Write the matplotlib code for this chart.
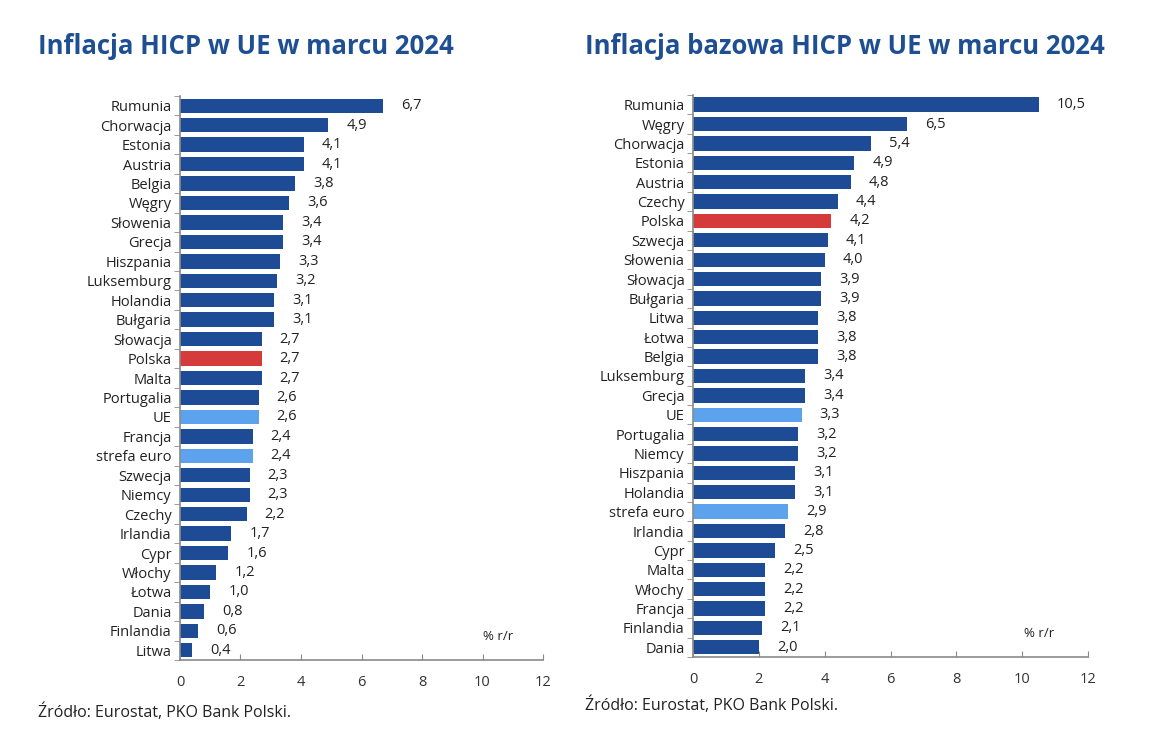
import numpy as np
import matplotlib
matplotlib.use('Agg')
import matplotlib.pyplot as plt

plt.rcParams['font.family'] = ['Open Sans', 'DejaVu Sans']

# left chart: HICP inflation, March 2024
hicp_countries = ["Rumunia", "Chorwacja", "Estonia", "Austria", "Belgia", "Węgry",
                  "Słowenia", "Grecja", "Hiszpania", "Luksemburg", "Holandia", "Bułgaria",
                  "Słowacja", "Polska", "Malta", "Portugalia", "UE", "Francja",
                  "strefa euro", "Szwecja", "Niemcy", "Czechy", "Irlandia", "Cypr",
                  "Włochy", "Łotwa", "Dania", "Finlandia", "Litwa"]
hicp_values = [6.7, 4.9, 4.1, 4.1, 3.8, 3.6, 3.4, 3.4, 3.3, 3.2, 3.1, 3.1, 2.7, 2.7,
               2.7, 2.6, 2.6, 2.4, 2.4, 2.3, 2.3, 2.2, 1.7, 1.6, 1.2, 1.0, 0.8, 0.6, 0.4]

# right chart: core HICP inflation
core_countries = ["Rumunia", "Węgry", "Chorwacja", "Estonia", "Austria", "Czechy",
                  "Polska", "Szwecja", "Słowenia", "Słowacja", "Bułgaria", "Litwa",
                  "Łotwa", "Belgia", "Luksemburg", "Grecja", "UE", "Portugalia",
                  "Niemcy", "Hiszpania", "Holandia", "strefa euro", "Irlandia", "Cypr",
                  "Malta", "Włochy", "Francja", "Finlandia", "Dania"]
core_values = [10.5, 6.5, 5.4, 4.9, 4.8, 4.4, 4.2, 4.1, 4.0, 3.9, 3.9, 3.8, 3.8, 3.8,
               3.4, 3.4, 3.3, 3.2, 3.2, 3.1, 3.1, 2.9, 2.8, 2.5, 2.2, 2.2, 2.2, 2.1, 2.0]

x_ticks = [0, 2, 4, 6, 8, 10, 12]

DARK = '#1e4b95'
LIGHT = '#5da2ec'
RED = '#d63b3b'
TITLE = '#1f4f93'
GREY = '#8a8a8a'
TXT = '#222222'


def bar_colors(names):
    cols = []
    for n in names:
        if n == "Polska":
            cols.append(RED)
        elif n in ("UE", "strefa euro"):
            cols.append(LIGHT)
        else:
            cols.append(DARK)
    return cols


def draw_panel(ax, names, values):
    y = np.arange(len(names))
    ax.barh(y, values, height=0.74, color=bar_colors(names))
    ax.set_ylim(len(names) - 0.5, -0.5)
    ax.set_xlim(0, 12)
    ax.set_xticks(x_ticks)
    ax.set_xticklabels([str(v) for v in x_ticks], fontsize=10.5, color='#333333')
    ax.set_yticks(y)
    ax.set_yticklabels(names, fontsize=10.5, color=TXT)
    ax.set_yticks(np.arange(len(names) + 1) - 0.5, minor=True)
    ax.tick_params(axis='y', which='major', length=0, pad=6)
    ax.tick_params(axis='y', which='minor', length=4, color=GREY, direction='out')
    ax.tick_params(axis='x', length=4, color=GREY, direction='in', pad=11)
    for s in ('top', 'right'):
        ax.spines[s].set_visible(False)
    for s in ('left', 'bottom'):
        ax.spines[s].set_color(GREY)
        ax.spines[s].set_linewidth(1.2)
    for yi, v in zip(y, values):
        ax.annotate(f"{v:.1f}".replace('.', ','), (v, yi), xytext=(13, 0),
                    textcoords='offset points', va='center', ha='left',
                    fontsize=10.5, color=TXT)
    ax.text(10.5, len(names) - 1.7, "% r/r", fontsize=9.5, color=TXT,
            ha='center', va='center')


fig = plt.figure(figsize=(11.5, 7.42), dpi=100)
ax1 = fig.add_axes([0.1565, 0.1105, 0.3157, 0.7601])
ax2 = fig.add_axes([0.6026, 0.1146, 0.3435, 0.7574])

draw_panel(ax1, hicp_countries, hicp_values)
draw_panel(ax2, core_countries, core_values)

fig.text(0.033, 0.937, "Inflacja HICP w UE w marcu 2024", fontsize=18.5,
         fontweight='bold', color=TITLE, va='center')
fig.text(0.509, 0.937, "Inflacja bazowa HICP w UE w marcu 2024", fontsize=18.5,
         fontweight='bold', color=TITLE, va='center')
fig.text(0.033, 0.040, "Źródło: Eurostat, PKO Bank Polski.", fontsize=11.5,
         color=TXT, va='center')
fig.text(0.509, 0.049, "Źródło: Eurostat, PKO Bank Polski.", fontsize=11.5,
         color=TXT, va='center')

fig.savefig('out.png', dpi=100)
plt.close(fig)
